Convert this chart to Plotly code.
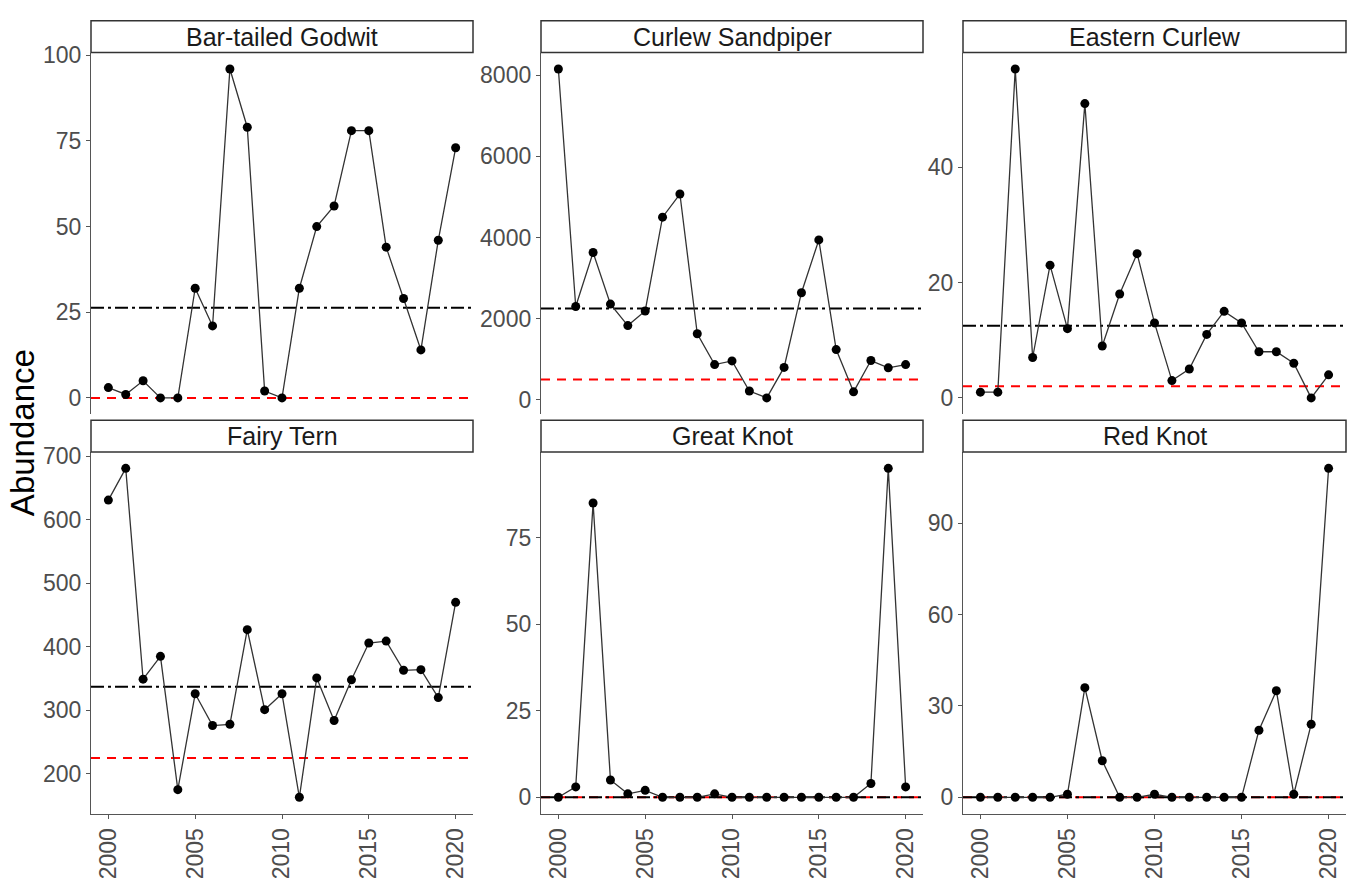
import plotly.graph_objects as go

years = list(range(2000, 2021))

species = ["Bar-tailed Godwit", "Curlew Sandpiper", "Eastern Curlew",
           "Fairy Tern", "Great Knot", "Red Knot"]

bar_tailed_godwit = [3, 1, 5, 0, 0, 32, 21, 96, 79, 2, 0, 32, 50, 56, 78, 78, 44, 29, 14, 46, 73]
curlew_sandpiper = [8150, 2300, 3630, 2360, 1830, 2190, 4500, 5070, 1630, 870, 960,
                    220, 50, 800, 2640, 3940, 1240, 200, 970, 790, 870]
eastern_curlew = [1, 1, 57, 7, 23, 12, 51, 9, 18, 25, 13, 3, 5, 11, 15, 13, 8, 8, 6, 0, 4]
fairy_tern = [631, 681, 349, 385, 175, 326, 276, 278, 427, 301, 326, 163, 351, 284,
              348, 406, 409, 363, 364, 320, 470]
great_knot = [0, 3, 85, 5, 1, 2, 0, 0, 0, 1, 0, 0, 0, 0, 0, 0, 0, 0, 4, 95, 3]
red_knot = [0, 0, 0, 0, 0, 1, 36, 12, 0, 0, 1, 0, 0, 0, 0, 0, 22, 35, 1, 24, 108]

series = [bar_tailed_godwit, curlew_sandpiper, eastern_curlew, fairy_tern, great_knot, red_knot]

black_line = [26.3, 2250, 12.5, 337, 0, 0]   # dot-dash reference
red_line = [0, 500, 2, 225, 0, 0]             # dashed reference

ytick_vals = [
    [0, 25, 50, 75, 100],
    [0, 2000, 4000, 6000, 8000],
    [0, 20, 40],
    [200, 300, 400, 500, 600, 700],
    [0, 25, 50, 75],
    [0, 30, 60, 90],
]
xtick_vals = [2000, 2005, 2010, 2015, 2020]

W, H = 1357, 879
col_px = [(91, 473), (541, 923), (963, 1346)]
row_px = [(43, 409), (447, 813)]   # plot top/bottom
strip_px = [(11, 43), (415, 447)]

FONT = "Liberation Sans, Arial, sans-serif"
AXIS_COL = "#555555"
TICK_COL = "#4D4D4D"

fig = go.Figure()
layout = dict(width=W, height=H, margin=dict(l=0, r=0, t=0, b=0),
              paper_bgcolor="white", plot_bgcolor="white", showlegend=False,
              font=dict(family=FONT))
shapes = []
annotations = []

for i, (name, vals) in enumerate(zip(species, series)):
    r, c = divmod(i, 3)
    k = i + 1
    xa = "x" if k == 1 else f"x{k}"
    ya = "y" if k == 1 else f"y{k}"
    xkey = "xaxis" if k == 1 else f"xaxis{k}"
    ykey = "yaxis" if k == 1 else f"yaxis{k}"

    x0p, x1p = col_px[c]
    t, b = row_px[r]
    xdom = [x0p / W, x1p / W]
    ydom = [1 - b / H, 1 - t / H]

    allv = vals + [black_line[i], red_line[i]]
    lo, hi = min(allv), max(allv)
    pad = 0.05 * (hi - lo)

    bottom = (r == 1)
    layout[xkey] = dict(domain=xdom, anchor=ya, range=[1999, 2021],
                        showgrid=False, zeroline=False,
                        showline=bottom, linecolor=AXIS_COL, linewidth=1.3,
                        ticks="outside" if bottom else "", ticklen=4, tickwidth=1.3,
                        tickcolor=AXIS_COL,
                        tickmode="array", tickvals=xtick_vals,
                        ticktext=[str(v) for v in xtick_vals],
                        showticklabels=bottom, tickangle=-90,
                        tickfont=dict(size=23, color=TICK_COL, family=FONT))
    layout[ykey] = dict(domain=ydom, anchor=xa, range=[lo - pad, hi + pad],
                        showgrid=False, zeroline=False,
                        showline=True, linecolor=AXIS_COL, linewidth=1.3,
                        ticks="outside", ticklen=4, tickwidth=1.3, tickcolor=AXIS_COL,
                        tickmode="array", tickvals=ytick_vals[i],
                        ticktext=[str(v) for v in ytick_vals[i]],
                        tickfont=dict(size=23, color=TICK_COL, family=FONT))

    # reference lines
    shapes.append(dict(type="line", xref=f"{xa} domain", yref=ya, x0=0, x1=1,
                       y0=red_line[i], y1=red_line[i], layer="below",
                       line=dict(color="#FF0000", width=2, dash="9px,7px")))
    shapes.append(dict(type="line", xref=f"{xa} domain", yref=ya, x0=0, x1=1,
                       y0=black_line[i], y1=black_line[i], layer="below",
                       line=dict(color="#000000", width=2, dash="13px,4px,3px,4px")))

    fig.add_trace(go.Scatter(x=years, y=vals, mode="lines+markers",
                             xaxis=xa, yaxis=ya, cliponaxis=False,
                             line=dict(color="#333333", width=1.3),
                             marker=dict(color="black", size=9)))

    # strip
    s0, s1 = strip_px[r]
    shapes.append(dict(type="rect", xref="paper", yref="paper",
                       x0=x0p / W, x1=x1p / W, y0=1 - s1 / H, y1=1 - s0 / H,
                       line=dict(color="#333333", width=1.5), fillcolor="white"))
    annotations.append(dict(xref="paper", yref="paper", x=(x0p + x1p) / 2 / W,
                            y=1 - (s0 + s1) / 2 / H, text=name, showarrow=False,
                            xanchor="center", yanchor="middle",
                            font=dict(size=25, color="#1A1A1A", family=FONT)))

annotations.append(dict(xref="paper", yref="paper", x=22 / W, y=1 - 428 / H,
                        text="Abundance", showarrow=False, textangle=-90,
                        xanchor="center", yanchor="middle",
                        font=dict(size=33, color="black", family=FONT)))

layout["shapes"] = shapes
layout["annotations"] = annotations
fig.update_layout(**layout)
fig.write_html("out.html")
